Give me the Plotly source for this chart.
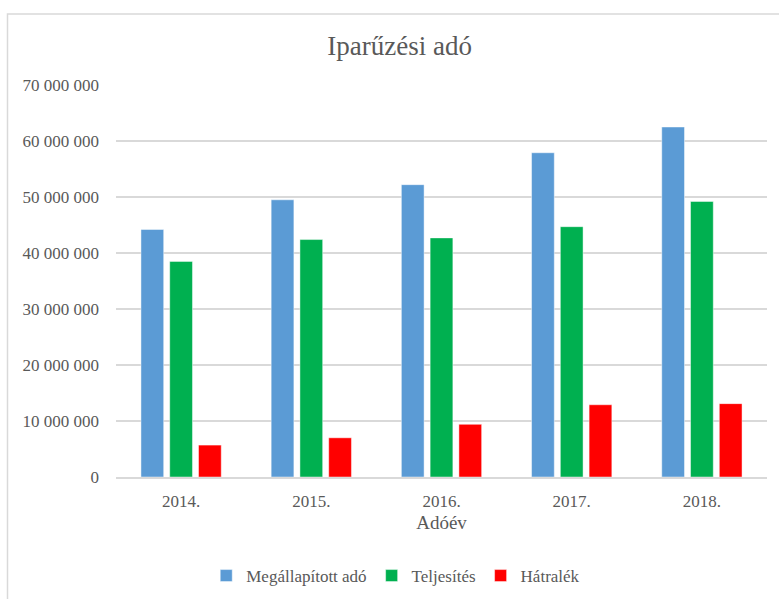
import plotly.graph_objects as go

years = ["2014.", "2015.", "2016.", "2017.", "2018."]
megallapitott = [44200000, 49500000, 52200000, 57900000, 62500000]
teljesites = [38500000, 42400000, 42700000, 44700000, 49200000]
hatralek = [5700000, 7000000, 9400000, 12900000, 13100000]

series_names = ["Megállapított adó", "Teljesítés", "Hátralék"]
colors = ["#5B9BD5", "#00B050", "#FF0000"]

FONT = "Liberation Serif"
TXT = "#595959"

fig = go.Figure()
for name, vals, col in zip(series_names, [megallapitott, teljesites, hatralek], colors):
    fig.add_trace(go.Bar(
        x=years, y=vals, name=name,
        marker=dict(color=col, line=dict(color="rgba(255,255,255,0.45)", width=1)),
    ))

fig.update_layout(
    width=779, height=599,
    margin=dict(l=116, r=12, t=85, b=122, autoexpand=False),
    paper_bgcolor="white", plot_bgcolor="white",
    separators=", ",
    font=dict(family=FONT, color=TXT, size=17),
    title=dict(text="Iparűzési adó", x=0.513, xanchor="center", xref="container",
               y=1 - 46 / 599, yref="container", yanchor="middle",
               font=dict(family=FONT, size=27, color=TXT)),
    barmode="group", bargap=0.337, bargroupgap=0.21,
    legend=dict(orientation="h", xref="container", x=0.508, xanchor="center",
                y=-0.2526, yanchor="middle", font=dict(family=FONT, size=17, color=TXT),
                itemclick=False),
    xaxis=dict(showgrid=False, showline=True, linecolor="#D9D9D9", linewidth=1.5,
               ticks="", ticklabelstandoff=8,
               title=dict(text="Adóév", font=dict(family=FONT, size=19, color=TXT), standoff=6)),
    yaxis=dict(range=[0, 70000000], dtick=10000000, tickformat=",d",
               showgrid=True, gridcolor="#D9D9D9", gridwidth=1.5,
               zeroline=False, showline=False, ticks="", ticklabelstandoff=16),
    shapes=[dict(type="rect", xref="paper", yref="paper",
                 x0=(7.5 - 116) / 651, x1=(790 - 116) / 651,
                 y0=(477 - 610) / 392, y1=(477 - 14) / 392,
                 line=dict(color="#D9D9D9", width=1.5), layer="below")],
)

fig.write_html("out.html", config={"displayModeBar": False},
               post_script="document.body.style.margin='0';")
